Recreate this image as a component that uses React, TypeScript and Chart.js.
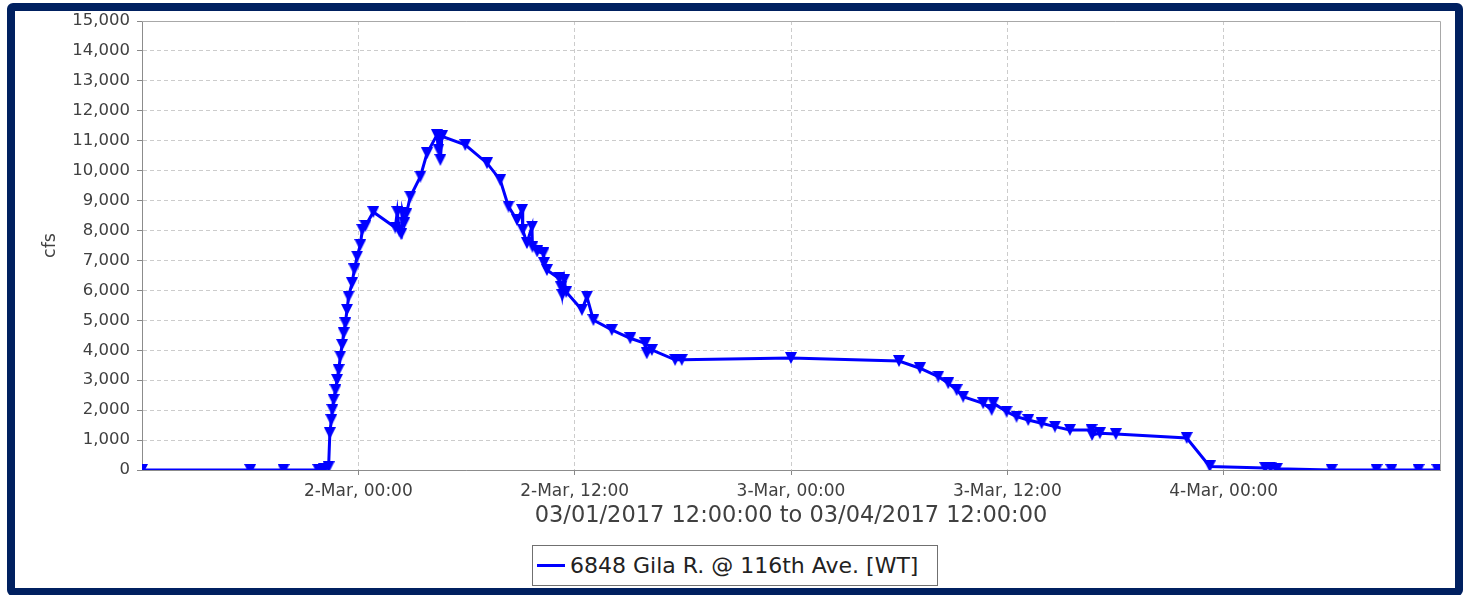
import React, { useEffect, useRef } from "react";
import { Chart, registerables } from "chart.js";

Chart.register(...registerables);

// Hours after 03/01/2017 12:00:00
const HOURS: number[] = [
  0, 6.0, 7.85, 9.78, 10.1, 10.35, 10.42, 10.5, 10.56, 10.63, 10.73, 10.82, 10.91, 11.0,
  11.1, 11.19, 11.28, 11.37, 11.46, 11.65, 11.78, 11.93, 12.11, 12.22, 12.39, 12.83,
  14.05, 14.16, 14.27, 14.38, 14.44, 14.55, 14.66, 14.88, 15.44, 15.81, 16.36, 16.44,
  16.49, 16.55, 16.64, 17.93, 19.14, 19.87, 20.33, 20.8, 21.08, 21.12, 21.35, 21.63,
  21.66, 21.92, 22.27, 22.3, 22.46, 23.14, 23.25, 23.31, 23.42, 23.53, 24.4, 24.68,
  25.04, 26.06, 27.08, 27.91, 28.0, 28.28, 29.57, 29.94, 36.0, 41.99, 43.15, 44.17,
  44.72, 45.19, 45.55, 46.66, 47.13, 47.22, 47.96, 48.51, 49.16, 49.9, 50.64, 51.47,
  52.67, 52.7, 53.13, 54.02, 57.95, 59.23, 62.3, 62.6, 62.95, 65.99, 68.48, 69.3,
  70.81, 71.86,
];

// Flow, cfs
const FLOW: number[] = [
  0, 0, 0, 0, 30, 90, 1230, 1670, 2005, 2340, 2670, 3010, 3340, 3790,
  4180, 4570, 4900, 5350, 5790, 6240, 6700, 7130, 7520, 8020, 8150, 8620,
  8100, 8620, 8000, 7880, 8600, 8250, 8550, 9130, 9800, 10580, 11190, 10700,
  11150, 10360, 11150, 10860, 10250, 9690, 8800, 8350, 8690, 8020, 7580, 8130,
  7460, 7300, 7240, 6910, 6680, 6400, 6100, 5850, 6350, 5950, 5350, 5790,
  5010, 4680, 4400, 4230, 3900, 4010, 3680, 3680, 3740, 3640, 3400, 3120,
  2900, 2670, 2450, 2230, 2010, 2230, 1950, 1780, 1670, 1560, 1450, 1340,
  1340, 1170, 1230, 1200, 1070, 120, 70, 80, 40, 0, 0, 0,
  0, 0,
];

const X_TICKS: number[] = [12, 24, 36, 48, 60];
const X_TICK_LABELS: string[] = [
  "2-Mar, 00:00",
  "2-Mar, 12:00",
  "3-Mar, 00:00",
  "3-Mar, 12:00",
  "4-Mar, 00:00",
];
const SERIES_LABEL = "6848 Gila R. @ 116th Ave. [WT]";
const X_TITLE = "03/01/2017 12:00:00 to 03/04/2017 12:00:00";
const Y_TITLE = "cfs";

const LINE_COLOR = "#0000ff";
const FONT = "'DejaVu Sans', sans-serif";

export default function App() {
  const ref = useRef<HTMLCanvasElement | null>(null);

  useEffect(() => {
    const canvas = ref.current;
    if (!canvas) return;

    const marker = document.createElement("canvas");
    marker.width = 12;
    marker.height = 12;
    const mctx = marker.getContext("2d");
    if (mctx) {
      mctx.fillStyle = LINE_COLOR;
      mctx.beginPath();
      mctx.moveTo(0, 0);
      mctx.lineTo(12, 0);
      mctx.lineTo(6, 12);
      mctx.closePath();
      mctx.fill();
    }

    const framePlugin = {
      id: "plotFrame",
      beforeDatasetsDraw(chart: any) {
        const { ctx, chartArea: a } = chart;
        ctx.save();
        ctx.strokeStyle = "#a8a8a8";
        ctx.lineWidth = 1;
        ctx.beginPath();
        ctx.moveTo(Math.round(a.left), Math.round(a.top) + 0.5);
        ctx.lineTo(Math.round(a.right) + 0.5, Math.round(a.top) + 0.5);
        ctx.lineTo(Math.round(a.right) + 0.5, Math.round(a.bottom));
        ctx.stroke();
        ctx.restore();
      },
    };

    const chart = new Chart(canvas, {
      type: "line",
      data: {
        datasets: [
          {
            label: SERIES_LABEL,
            data: HOURS.map((h, i) => ({ x: h, y: FLOW[i] })),
            borderColor: LINE_COLOR,
            backgroundColor: LINE_COLOR,
            borderWidth: 3,
            pointStyle: marker as any,
            pointRadius: 6,
            pointHoverRadius: 6,
            tension: 0,
            fill: false,
          },
        ],
      },
      options: {
        responsive: false,
        maintainAspectRatio: false,
        devicePixelRatio: 1,
        animation: false,
        events: [],
        layout: { padding: { left: 0, top: 21, right: 26, bottom: 0 } },
        plugins: {
          legend: { display: false },
          tooltip: { enabled: false },
        },
        scales: {
          x: {
            type: "linear",
            min: 0,
            max: 72,
            afterBuildTicks: (s: any) => {
              s.ticks = X_TICKS.map((v) => ({ value: v }));
            },
            afterFit: (s: any) => {
              s.height = 125;
            },
            ticks: {
              autoSkip: false,
              maxRotation: 0,
              color: "#404040",
              padding: 6,
              font: { family: FONT, size: 17 },
              callback: (v: any) => X_TICK_LABELS[X_TICKS.indexOf(Number(v))] ?? "",
            },
            grid: {
              color: "#cccccc",
              lineWidth: 1,
              tickLength: 5,
              tickColor: "#888888",
              tickBorderDash: [],
            },
            border: { color: "#8c8c8c", width: 1, dash: [4, 3] },
            title: {
              display: true,
              text: X_TITLE,
              color: "#404040",
              font: { family: FONT, size: 22.5 },
              padding: { top: 0, bottom: 65 },
            },
          },
          y: {
            type: "linear",
            min: 0,
            max: 15000,
            afterFit: (s: any) => {
              s.width = 142;
            },
            ticks: {
              stepSize: 1000,
              color: "#404040",
              padding: 7,
              font: { family: FONT, size: 16.5 },
              callback: (v: any) => Number(v).toLocaleString("en-US"),
            },
            grid: {
              color: "#cccccc",
              lineWidth: 1,
              tickLength: 5,
              tickColor: "#888888",
              tickBorderDash: [],
            },
            border: { color: "#8c8c8c", width: 1, dash: [4, 3] },
            title: {
              display: true,
              text: Y_TITLE,
              color: "#404040",
              font: { family: FONT, size: 17.5 },
              padding: { top: 39.5, bottom: 0 },
            },
          },
        },
      },
      plugins: [framePlugin],
    } as any);

    return () => chart.destroy();
  }, []);

  return (
    <div
      style={{
        position: "fixed",
        left: 0,
        top: 0,
        width: 1466,
        height: 595,
        background: "#ffffff",
        overflow: "hidden",
      }}
    >
      <div
        style={{
          position: "absolute",
          left: 7,
          top: 3,
          width: 1456,
          height: 593,
          border: "8px solid #002060",
          borderRadius: 6,
          boxSizing: "border-box",
        }}
      />
      <canvas
        ref={ref}
        width={1466}
        height={595}
        style={{ position: "absolute", left: 0, top: 0, width: 1466, height: 595 }}
      />
      <div
        style={{
          position: "absolute",
          left: 532,
          top: 545,
          width: 406,
          height: 41,
          border: "1px solid #707070",
          boxSizing: "border-box",
          background: "#ffffff",
        }}
      >
        <div
          style={{
            position: "absolute",
            left: 4,
            top: 18,
            width: 28,
            height: 3,
            background: LINE_COLOR,
          }}
        />
        <span
          style={{
            position: "absolute",
            left: 37,
            top: 0,
            height: 39,
            lineHeight: "39px",
            fontFamily: FONT,
            fontSize: 22,
            color: "#222222",
            whiteSpace: "nowrap",
          }}
        >
          {SERIES_LABEL}
        </span>
      </div>
    </div>
  );
}
